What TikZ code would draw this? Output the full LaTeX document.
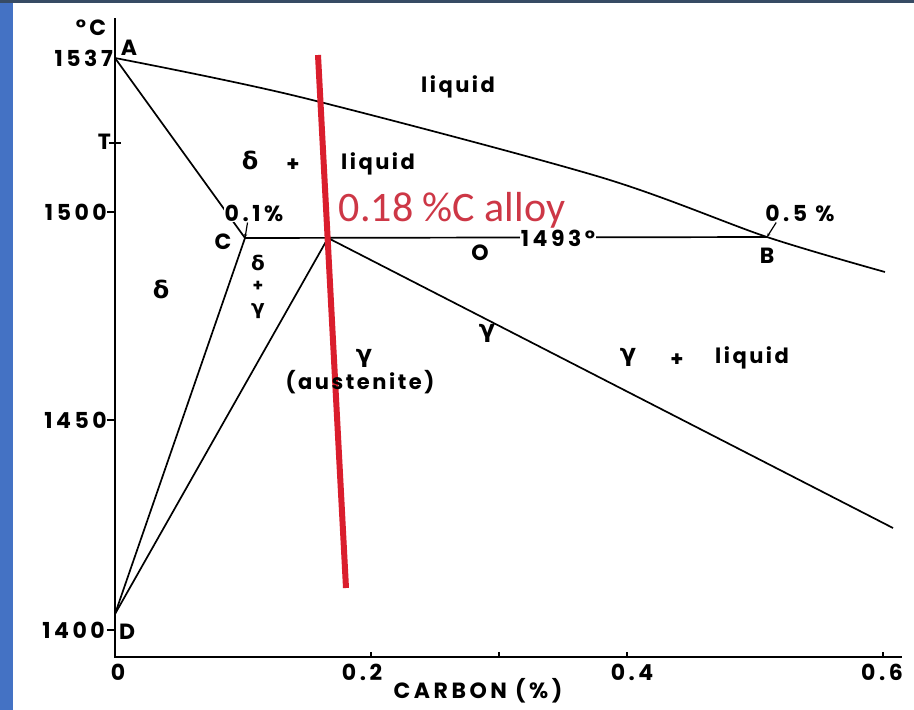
\documentclass[tikz,border=0pt]{standalone}
\usepackage{fontspec}
\setmainfont{Poppins}
\newfontfamily\figfont{Poppins}[LetterSpace=12]
\newfontfamily\numfont{Poppins}[LetterSpace=16]
\newfontfamily\grk{DejaVu Sans}
\newfontfamily\notefont{Carlito}
\usetikzlibrary{arrows.meta}
\definecolor{slideblue}{RGB}{68,114,196}
\definecolor{slidetop}{RGB}{55,75,100}
\definecolor{alloyred}{RGB}{218,30,45}
\definecolor{notered}{RGB}{205,55,70}

\begin{document}
\begin{tikzpicture}[x=1pt, y=-1pt,
  every node/.style={inner sep=1pt},
  lbl/.style={font=\fontsize{21}{22}\selectfont\figfont\bfseries},
  num/.style={font=\fontsize{22}{22}\selectfont\numfont\bfseries},
  greek/.style={font=\fontsize{24}{22}\selectfont\grk\bfseries},
  stack/.style={font=\fontsize{20}{20}\selectfont\grk\bfseries, inner sep=0pt},
  phase/.style={line width=1.7pt},
  axis/.style={line width=2.8pt},
  pointer/.style={line width=1.2pt, -{Stealth[length=4pt]}},
]
% slide frame
\fill[slideblue] (0,0) rectangle (914,710);
\fill[slidetop] (0,0) rectangle (914,3);
\fill[white] (13,3) rectangle (914,710);
\useasboundingbox (0,0) rectangle (914,710);

% key points of the diagram
\coordinate (A) at (115,58);
\coordinate (B) at (767,237);
\coordinate (C) at (245,238);
\coordinate (P) at (328,238);
\coordinate (D) at (115,614);
\coordinate (liqend) at (885,272);
\coordinate (gamend) at (893,528);
\coordinate (origin) at (115,657);
\coordinate (ytop) at (115,18);
\coordinate (xend) at (902,657);

% axes
\draw[axis] (ytop) -- (origin) -- (xend);
\foreach \y in {212,420,630} \draw[line width=1.4pt] (107,\y) -- (115,\y);
\draw[line width=1.4pt] (109,143) -- (121,143);
\foreach \x in {371,499,627,883} \draw[line width=1.2pt] (\x,657) -- (\x,652);

% phase boundaries
\draw[phase] plot[smooth, tension=0.5] coordinates {(A) (300,97) (600,177) (B) (liqend)};
\draw[phase] (A) -- (C);
\draw[phase] (C) -- (B);
\draw[phase] (D) -- (C);
\draw[phase] (D) -- (P);
\draw[phase] (P) -- (gamend);

% the 0.18 %C alloy
\coordinate (redtop) at (318,55);
\coordinate (redbot) at (346,588);
\draw[alloyred, line width=6pt] (redtop) -- (redbot);

% axis labels
\node[num] (degc) at (91,28) {°C};
\node[num, anchor=east] (t1537) at (114,58) {1537};
\node[num] (lA) at (129,48) {A};
\node[num, anchor=east] (lT) at (112,142) {T};
\node[num, anchor=east] (t1500) at (108,212) {1500};
\node[num, anchor=east] (t1450) at (108,420) {1450};
\node[num, anchor=east] (t1400) at (106,630) {1400};
\node[num] (lD) at (127,632) {D};
\node[num] (x0) at (118,672) {0};
\node[num] (x2) at (362,672) {0.2};
\node[num] (x4) at (632,672) {0.4};
\node[num] (x6) at (882,672) {0.6};
\node[num] (xlab) at (478,691) {CARBON (\%)};

% point labels
\node[num] (lC) at (223,242) {C};
\node[num, fill=white] (pc01) at (254,213) {0.1\%};
\draw[pointer] (pc01.south west) ++(24,0) -- (C);
\node[num] (lB) at (767,256) {B};
\node[num] (pc05) at (800,213) {0.5 \%};
\draw[pointer] (pc05.south west) ++(12,0) -- (B);
\node[num, fill=white] (t1493) at (558,238) {1493°};
\node[num] (lO) at (480,253) {O};

% phase fields
\node[lbl] (liq) at (458,87) {liquid};
\node[greek] (dl1) at (250,160) {δ};
\node[lbl] (dl2) at (293,165) {+};
\node[lbl] (dl3) at (378,164) {liquid};
\node[greek] (delta) at (161,289) {δ};
\node[stack, text height=14pt, text depth=0pt] (dg1) at (258,263) {δ};
\node[stack, font=\fontsize{17}{17}\selectfont\bfseries, text height=9pt, text depth=0pt] (dg2) at (258,287) {+};
\node[stack, text height=10pt, text depth=4pt] (dg3) at (258,311) {γ};
\node[greek] (gam) at (364,358) {γ};
\node[lbl] (aust) at (360,382) {(austenite)};
\node[greek] (gam2) at (487,333) {γ};
\node[greek] (gl1) at (628,357) {γ};
\node[lbl] (gl2) at (677,360) {+};
\node[lbl] (gl3) at (752,358) {liquid};

% annotation
\node[font=\fontsize{42}{46}\selectfont\notefont, text=notered] (alloy) at (452,210) {0.18 \%C alloy};
\end{tikzpicture}
\end{document}
